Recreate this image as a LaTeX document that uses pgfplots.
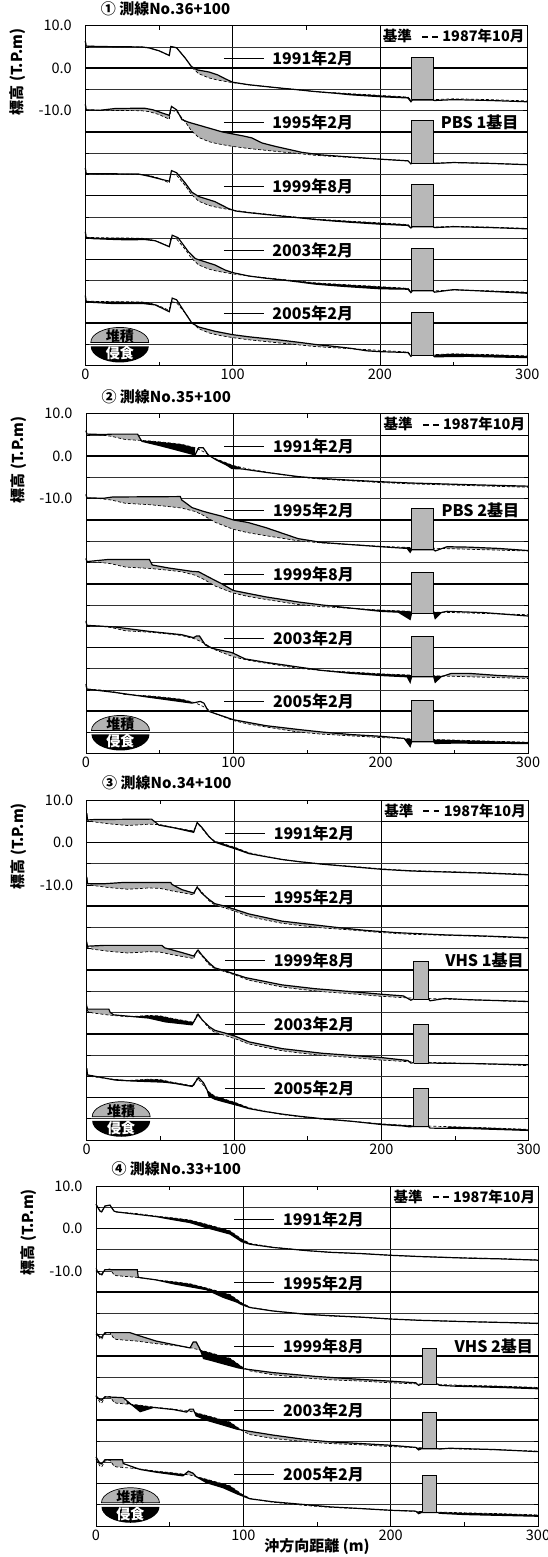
\documentclass[border=0pt]{standalone}
\usepackage{fontspec}
\setmainfont{Noto Sans CJK JP}
\usepackage{pgfplots}
\pgfplotsset{compat=1.18}
\usepgfplotslibrary{fillbetween}
\usepackage{pgfplotstable}

\newcommand{\lab}{\fontsize{16}{18}\selectfont\bfseries}
\newcommand{\tik}{\fontsize{14.5}{16}\selectfont}

% 1987 baselines (relative elevation, m)
\pgfplotstableread{
x y
0 6.4
0.6 5.2
10 5.1
38 5.0
43 4.8
50 4.1
57 3.0
58 5.1
62 4.8
68 2.3
72 0.3
77 -1.3
84 -2.3
90 -2.8
100 -3.4
111 -3.9
122 -4.3
133 -4.7
145 -5.1
156 -5.5
170 -5.8
180 -6.0
200 -6.4
219 -6.8
221 -7.5
222 -7.2
236 -7.2
237 -7.4
250 -7.2
275 -7.4
300 -7.7
}\BaseA
\pgfplotstableread{
x y
0 6.0
0.6 5.2
10 5.0
17 4.7
27 3.9
35 3.75
43 3.6
55 3.2
65 2.8
74 2.0
79 1.2
88 -0.6
100 -2.2
110 -3.0
122 -3.7
133 -4.3
144 -4.9
160 -5.4
180 -5.8
200 -6.2
220 -6.5
240 -6.7
260 -6.9
300 -7.3
}\BaseB
\pgfplotstableread{
x y
0 6.9
0.6 5.3
4 4.9
15 4.4
28 4.0
42 4.3
50 4.2
58 3.6
72.6 2.7
75 4.6
78 3.4
83 1.3
87 0.3
92 -0.2
101 -1.2
110 -2.4
121 -3.2
132.6 -4.0
144 -4.5
160 -5.1
180 -5.6
200 -6.2
220 -6.6
240 -6.8
270 -7.1
300 -7.5
}\BaseC
\pgfplotstableread{
x y
0 5.7
2.7 4.1
3.8 3.9
6.1 5.3
9.5 5.5
12.2 4.1
14 3.9
28 3.5
41 2.9
52.5 2.5
63.8 2.0
75 1.0
91 -0.55
98.9 -2.5
104.5 -3.5
120 -4.4
143 -5.2
159 -5.6
180 -5.9
200 -6.3
220 -6.6
250 -6.9
275 -7.1
300 -7.4
}\BaseD

\pgfplotsset{
 r/.style={y filter/.expression={y-#1}},
 surv/.style={black, line width=1.2pt, mark=none},
 base/.style={black, line width=0.7pt, dash pattern=on 3pt off 2pt, mark=none},
 acc/.style={fill=black!30, draw=none},
 ero/.style={fill=black, draw=none},
 struct/.style={fill=black!28, draw=black, line width=0.9pt, mark=none},
 panel/.style={
  scale only axis, width=442pt, height=340pt,
  xmin=0, xmax=300, ymin=-70, ymax=10,
  clip=false, set layers,
  axis line style={line width=0.8pt},
  xtick={0,100,200,300}, minor xtick={50,150,250},
  xmajorgrids, major x grid style={black, line width=0.7pt},
  ytick={10,0,-10}, yticklabels={10.0,0.0,-10.0},
  minor ytick={5,-5,-10,-20,-25,-35,-40,-50,-55,-65},
  yminorgrids, minor y grid style={black!80, line width=0.55pt},
  extra y ticks={0,-15,-30,-45,-60}, extra y tick labels={},
  extra y tick style={grid=major, major grid style={black, line width=1.6pt}},
  tick align=inside, major tick length=0pt, minor tick length=4pt,
  tick style={black, line width=0.6pt},
  ticklabel style={font=\tik},
  yticklabel style={xshift=-10pt},
  /pgf/number format/assume math mode=true,
  ylabel={標高 (T.P.m)},
  ylabel style={at={(axis description cs:-0.153,0.864)}, anchor=center, font=\fontsize{15}{17}\selectfont\bfseries},
  title style={at={(axis description cs:0,1)}, anchor=west, xshift=12pt, yshift=11pt, font=\fontsize{15}{17}\selectfont\bfseries},
 },
}

\newcommand{\refbox}{%
 \draw[fill=white, line width=0.8pt] (axis cs:200,5) rectangle (axis cs:300,10);
 \node[font=\fontsize{14.5}{16}\selectfont\bfseries] at (axis cs:250,7.5) {基準\hspace{0.7em}\rule[0.3em]{0.4em}{1.6pt}\hspace{0.3em}\rule[0.3em]{0.4em}{1.6pt}\hspace{0.3em}1987年10月};}
\newcommand{\yearlab}[2]{%
 \draw[line width=0.9pt] (axis cs:94,#1) -- (axis cs:121,#1) node[right=5pt, font=\lab] {#2};}
\newcommand{\sedlegend}{%
 \coordinate (L) at (axis cs:23.4,-65);
 \draw[fill=black!30, line width=0.7pt] ([xshift=-29pt,yshift=2pt]L) arc[start angle=180,end angle=0,x radius=29pt,y radius=15pt] -- cycle;
 \fill[black] ([xshift=-29pt,yshift=-2pt]L) arc[start angle=180,end angle=360,x radius=29pt,y radius=16pt] -- cycle;
 \node[font=\fontsize{14}{16}\selectfont\bfseries] at ([yshift=8pt]L) {堆積};
 \node[font=\fontsize{14}{16}\selectfont\bfseries, white] at ([yshift=-9pt]L) {侵食};}

\begin{document}
\begin{tikzpicture}

%================ Panel 1
\begin{axis}[panel, at={(85.3pt,-25.7pt)}, anchor=north west, title={① 測線No.36+100}]
\addplot[base, name path=b1] table {\BaseA};
\addplot[surv, name path=s1] coordinates {(0,6.4) (0.6,5.2) (10,5.1) (38,5.0) (43,4.8) (50,4.1) (57,3.0) (58,5.1) (62,4.8) (68,2.3) (72,0.4) (76,-0.4) (84,-0.9) (90,-1.6) (95,-2.5) (100,-3.3) (111,-3.9) (122,-4.3) (133,-4.7) (145,-5.1) (156,-5.5) (170,-5.9) (180,-6.25) (200,-6.7) (219,-7.0) (221,-7.9) (222,-7.5) (236,-7.5) (237,-7.6) (250,-7.4) (275,-7.6) (300,-7.9)};
\addplot[acc] fill between[of=s1 and b1, soft clip={domain=72:100}];
\addplot[ero] fill between[of=s1 and b1, soft clip={domain=165:221}];
\addplot[base, r=15, name path=b2] table {\BaseA};
\addplot[surv, r=15, name path=s2] coordinates {(0,6.5) (0.6,5.2) (10,5.1) (20,5.5) (40,5.6) (46,5.2) (57,3.9) (58.5,6.0) (62,5.2) (65.6,2.9) (70,2.3) (76,1.7) (84,0.9) (93,0) (102,-0.6) (108,-1.0) (113,-1.4) (120,-2.6) (129,-3.4) (138,-4.1) (147,-4.8) (160,-5.4) (180,-5.9) (200,-6.4) (219,-6.8) (221,-7.5) (222,-7.2) (236,-7.2) (237,-7.4) (250,-7.2) (275,-7.4) (300,-7.7)};
\addplot[acc] fill between[of=s2 and b2, soft clip={domain=12:58}];
\addplot[acc] fill between[of=s2 and b2, soft clip={domain=64:165}];
\addplot[base, r=30, name path=b3] table {\BaseA};
\addplot[surv, r=30, name path=s3] coordinates {(0,6.5) (0.6,5.2) (36,5.1) (43,4.6) (50,4.0) (57,3.4) (58.5,5.9) (62,5.4) (68,2.9) (72.4,0.8) (77,-0.2) (88,-1.4) (97,-3.0) (102,-3.6) (111,-4.0) (122,-4.4) (133,-4.8) (145,-5.2) (156,-5.6) (170,-6.0) (180,-6.25) (200,-6.7) (219,-7.0) (221,-7.6) (222,-7.3) (236,-7.3) (237,-7.5) (250,-7.3) (275,-7.5) (300,-7.8)};
\addplot[acc] fill between[of=s3 and b3, soft clip={domain=66:101}];
\addplot[ero] fill between[of=s3 and b3, soft clip={domain=38:52}];
\addplot[ero] fill between[of=s3 and b3, soft clip={domain=150:221}];
\addplot[base, r=45, name path=b4] table {\BaseA};
\addplot[surv, r=45, name path=s4] coordinates {(0,6.5) (0.6,5.2) (5,4.9) (20,4.7) (30,4.6) (40,4.7) (47.5,4.4) (57,3.0) (59,5.7) (63,5.1) (70,1.8) (74.7,0.2) (79,-0.3) (88,-1.3) (95,-2.5) (100,-3.1) (111,-3.9) (122,-4.4) (133,-4.8) (145,-5.3) (156,-5.8) (170,-6.2) (180,-6.45) (200,-6.9) (219,-7.0) (221,-7.8) (222,-7.4) (236,-7.4) (237,-7.7) (250,-7.1) (262,-7.3) (300,-7.95)};
\addplot[ero] fill between[of=s4 and b4, soft clip={domain=2:48}];
\addplot[acc] fill between[of=s4 and b4, soft clip={domain=72:100}];
\addplot[ero] fill between[of=s4 and b4, soft clip={domain=125:221}];
\addplot[ero] fill between[of=s4 and b4, soft clip={domain=262:300}];
\addplot[base, r=60, name path=b5] table {\BaseA};
\addplot[surv, r=60, name path=s5] coordinates {(0,6.5) (0.6,5.1) (5,4.9) (20,4.6) (30,4.6) (40,4.6) (47.5,4.3) (57,2.7) (59,5.9) (62,5.5) (68,2.3) (72.4,0) (77,-0.9) (88,-1.9) (100,-2.7) (111,-3.2) (122,-3.6) (133,-4.0) (145,-4.5) (156,-5.0) (170,-5.5) (180,-5.9) (191,-6.5) (200,-6.7) (219,-6.9) (221,-7.8) (222,-7.5) (236,-7.5) (237,-7.9) (260,-7.8) (300,-8.1)};
\addplot[ero] fill between[of=s5 and b5, soft clip={domain=2:48}];
\addplot[acc] fill between[of=s5 and b5, soft clip={domain=74:195}];
\addplot[ero] fill between[of=s5 and b5, soft clip={domain=237:300}];
\addplot[struct] coordinates {(221.5,-7.3) (221.5,2.6) (236.5,2.6) (236.5,-7.3) (221.5,-7.3)};
\addplot[struct, r=15] coordinates {(221.5,-7.3) (221.5,2.6) (236.5,2.6) (236.5,-7.3) (221.5,-7.3)};
\addplot[struct, r=30] coordinates {(221.5,-7.3) (221.5,2.6) (236.5,2.6) (236.5,-7.3) (221.5,-7.3)};
\addplot[struct, r=45] coordinates {(221.5,-7.4) (221.5,2.6) (236.5,2.6) (236.5,-7.4) (221.5,-7.4)};
\addplot[struct, r=60] coordinates {(221.5,-7.5) (221.5,2.6) (236.5,2.6) (236.5,-7.5) (221.5,-7.5)};
\refbox
\yearlab{2.2}{1991年2月}
\yearlab{-12.8}{1995年2月}
\yearlab{-27.8}{1999年8月}
\yearlab{-42.8}{2003年2月}
\yearlab{-57.8}{2005年2月}
\node[anchor=west, font=\lab] at (axis cs:239,-12.8) {PBS 1基目};
\sedlegend
\end{axis}

%================ Panel 2
\begin{axis}[panel, at={(86pt,-413.7pt)}, anchor=north west, title={② 測線No.35+100}]
\addplot[base, name path=b1] table {\BaseB};
\addplot[surv, name path=s1] coordinates {(0,6.0) (0.6,5.2) (12,5.1) (18,5.2) (35,5.2) (37,4.0) (38,3.5) (50,2.5) (60,1.6) (74,0.3) (76.5,2.0) (79.5,2.0) (83,0.3) (88,-0.8) (95,-2.0) (99,-2.9) (106,-3.0) (122,-3.8) (144,-4.8) (160,-5.25) (180,-5.65) (200,-6.0) (220,-6.3) (240,-6.5) (260,-6.7) (300,-7.05)};
\addplot[acc] fill between[of=s1 and b1, soft clip={domain=12:37}];
\addplot[ero] fill between[of=s1 and b1, soft clip={domain=37:74}];
\addplot[ero] fill between[of=s1 and b1, soft clip={domain=88:105}];
\addplot[acc] fill between[of=s1 and b1, soft clip={domain=150:300}];
\addplot[base, r=15, name path=b2] table {\BaseB};
\addplot[surv, r=15, name path=s2] coordinates {(0,6.0) (0.6,5.2) (12,5.1) (18,5.4) (64,5.5) (65,4.7) (72,2.9) (79,2.1) (83,1.7) (92,0.9) (100,0) (110,-0.6) (122,-1.8) (133,-3.1) (144,-4.4) (153,-4.9) (160,-5.3) (180,-5.8) (200,-6.3) (218,-6.7) (220,-7.6) (221,-7.0) (236,-7.0) (237,-7.3) (245,-6.3) (260,-6.4) (280,-6.7) (300,-7.2)};
\addplot[acc] fill between[of=s2 and b2, soft clip={domain=12:165}];
\addplot[ero] fill between[of=s2 and b2, soft clip={domain=214:221}];
\addplot[acc] fill between[of=s2 and b2, soft clip={domain=240:300}];
\addplot[base, r=30, name path=b3] table {\BaseB};
\addplot[surv, r=30, name path=s3] coordinates {(0,5.9) (0.6,5.2) (15,5.7) (43,5.7) (45,4.4) (56,3.7) (72,2.9) (76.5,2.8) (83,1.6) (92,0) (100,-1.6) (122,-3.1) (144,-4.3) (160,-5.0) (180,-5.75) (200,-6.5) (212,-6.7) (220,-8.4) (221,-6.9) (236,-6.9) (237,-8.2) (241,-6.8) (245,-6.5) (270,-6.8) (300,-7.6)};
\addplot[acc] fill between[of=s3 and b3, soft clip={domain=8:165}];
\addplot[ero] fill between[of=s3 and b3, soft clip={domain=172:221}];
\addplot[ero] fill between[of=s3 and b3, soft clip={domain=236:242}];
\addplot[base, r=45, name path=b4] table {\BaseB};
\addplot[surv, r=45, name path=s4] coordinates {(0,6.25) (0.6,5.2) (20,4.8) (42.5,3.8) (65,3.0) (73,2.3) (75,2.7) (77,2.7) (81,0.6) (85.5,-0.2) (99,-1.2) (108,-2.7) (122,-3.5) (144,-4.6) (160,-5.4) (180,-6.1) (200,-6.6) (218,-6.9) (220,-8.2) (221,-6.9) (236,-6.9) (237,-8.2) (241,-6.9) (248,-6.1) (260,-6.1) (280,-6.6) (300,-6.9)};
\addplot[acc] fill between[of=s4 and b4, soft clip={domain=2:140}];
\addplot[ero] fill between[of=s4 and b4, soft clip={domain=150:221}];
\addplot[ero] fill between[of=s4 and b4, soft clip={domain=236:242}];
\addplot[acc] fill between[of=s4 and b4, soft clip={domain=243:300}];
\addplot[base, r=60, name path=b5] table {\BaseB};
\addplot[surv, r=60, name path=s5] coordinates {(0,6.4) (0.6,5.2) (20,4.4) (42.5,3.3) (72,1.9) (77.6,2.3) (80,1.9) (83,0) (100,-2.0) (122,-3.4) (144,-4.3) (160,-4.9) (180,-5.5) (200,-5.9) (216,-6.4) (220,-8.3) (221,-7.2) (236,-7.2) (237,-7.6) (250,-7.5) (300,-7.6)};
\addplot[ero] fill between[of=s5 and b5, soft clip={domain=25:72}];
\addplot[acc] fill between[of=s5 and b5, soft clip={domain=83:205}];
\addplot[ero] fill between[of=s5 and b5, soft clip={domain=213:221}];
\addplot[ero] fill between[of=s5 and b5, soft clip={domain=236:300}];
\addplot[struct, r=15] coordinates {(220.6,-7.0) (220.6,2.6) (235.6,2.6) (235.6,-7.0) (220.6,-7.0)};
\addplot[struct, r=30] coordinates {(220.6,-6.9) (220.6,2.6) (235.6,2.6) (235.6,-6.9) (220.6,-6.9)};
\addplot[struct, r=45] coordinates {(220.6,-6.9) (220.6,2.5) (235.6,2.5) (235.6,-6.9) (220.6,-6.9)};
\addplot[struct, r=60] coordinates {(220.6,-7.2) (220.6,2.6) (235.6,2.6) (235.6,-7.2) (220.6,-7.2)};
\refbox
\yearlab{2.2}{1991年2月}
\yearlab{-12.8}{1995年2月}
\yearlab{-27.8}{1999年8月}
\yearlab{-42.8}{2003年2月}
\yearlab{-57.8}{2005年2月}
\node[anchor=west, font=\lab] at (axis cs:239,-12.8) {PBS 2基目};
\sedlegend
\end{axis}

%================ Panel 3
\begin{axis}[panel, at={(86.7pt,-800pt)}, anchor=north west, title={③ 測線No.34+100}]
\addplot[base, name path=b1] table {\BaseC};
\addplot[surv, name path=s1] coordinates {(0,6.9) (0.6,5.3) (5,5.4) (44,5.5) (49,4.1) (60,3.4) (72.6,2.4) (75,4.7) (78.3,3.5) (83,1.4) (87,0.1) (92,-0.5) (101,-1.5) (110,-2.6) (121,-3.3) (132.6,-4.0) (144,-4.5) (160,-5.1) (180,-5.7) (200,-6.3) (220,-6.7) (240,-6.9) (270,-7.2) (300,-7.6)};
\addplot[acc] fill between[of=s1 and b1, soft clip={domain=3:46}];
\addplot[ero] fill between[of=s1 and b1, soft clip={domain=52:73}];
\addplot[ero] fill between[of=s1 and b1, soft clip={domain=85:112}];
\addplot[base, r=15, name path=b2] table {\BaseC};
\addplot[surv, r=15, name path=s2] coordinates {(0,6.9) (0.6,5.3) (12,5.3) (25,5.6) (57,5.6) (58,5.1) (64.7,3.9) (72.6,3.1) (75,4.5) (78,3.1) (83,1.6) (87,0.6) (94,0) (110,-1.8) (132.6,-3.5) (155,-4.4) (170,-5.0) (190,-5.7) (210,-6.2) (240,-6.7) (270,-7.0) (300,-7.4)};
\addplot[acc] fill between[of=s2 and b2, soft clip={domain=3:73}];
\addplot[acc] fill between[of=s2 and b2, soft clip={domain=80:200}];
\addplot[base, r=30, name path=b3] table {\BaseC};
\addplot[surv, r=30, name path=s3] coordinates {(0,6.4) (0.6,5.6) (12,5.8) (51,5.8) (53,5.2) (64.7,4.1) (72.6,3.3) (75.6,4.7) (78,3.6) (83,1.7) (87,0.5) (92,0.0) (108,-1.8) (132.6,-3.5) (155,-4.4) (180,-5.1) (200,-5.7) (215,-6.1) (220,-7.1) (222,-6.8) (232,-6.8) (233,-7.25) (243,-6.7) (260,-7.0) (300,-7.4)};
\addplot[acc] fill between[of=s3 and b3, soft clip={domain=3:73}];
\addplot[acc] fill between[of=s3 and b3, soft clip={domain=80:219}];
\addplot[base, r=45, name path=b4] table {\BaseC};
\addplot[surv, r=45, name path=s4] coordinates {(0,6.4) (0.6,5.8) (15,5.8) (16,5.0) (18.3,4.45) (42,3.7) (53.4,2.8) (71.5,2.1) (75.6,4.6) (78.3,3.3) (83,1.7) (87,0.8) (94,0.15) (101,-0.6) (110,-1.9) (132.6,-3.5) (160,-4.6) (180,-5.1) (200,-5.6) (218,-6.3) (220,-6.9) (222,-6.8) (232,-6.8) (233,-6.9) (260,-7.0) (300,-7.3)};
\addplot[acc] fill between[of=s4 and b4, soft clip={domain=0.6:17}];
\addplot[ero] fill between[of=s4 and b4, soft clip={domain=32:74}];
\addplot[acc] fill between[of=s4 and b4, soft clip={domain=83:219}];
\addplot[base, r=60, name path=b5] table {\BaseC};
\addplot[surv, r=60, name path=s5] coordinates {(0,6.9) (0.6,5.3) (4,5.1) (19.5,4.1) (30,3.9) (42,3.75) (53,3.6) (60,3.3) (71.5,2.6) (76,4.7) (79.4,3.4) (81.7,1.8) (83,0.3) (87,-0.4) (92,-0.9) (103,-1.9) (110,-2.6) (121,-3.3) (132.6,-3.9) (144,-4.4) (160,-5.0) (180,-5.6) (200,-6.35) (215,-6.7) (219,-6.9) (222,-6.8) (232,-6.8) (233,-7.2) (260,-7.3) (300,-7.75)};
\addplot[ero] fill between[of=s5 and b5, soft clip={domain=18:74}];
\addplot[ero] fill between[of=s5 and b5, soft clip={domain=80:112}];
\addplot[ero] fill between[of=s5 and b5, soft clip={domain=190:222}];
\addplot[ero] fill between[of=s5 and b5, soft clip={domain=245:300}];
\addplot[struct, r=30] coordinates {(222,-6.9) (222,2.05) (232,2.05) (232,-6.9) (222,-6.9)};
\addplot[struct, r=45] coordinates {(222,-6.9) (222,2.2) (232,2.2) (232,-6.9) (222,-6.9)};
\addplot[struct, r=60] coordinates {(222,-6.9) (222,2.05) (232,2.05) (232,-6.9) (222,-6.9)};
\refbox
\yearlab{2.2}{1991年2月}
\yearlab{-12.8}{1995年2月}
\yearlab{-27.8}{1999年8月}
\yearlab{-42.8}{2003年2月}
\yearlab{-57.8}{2005年2月}
\node[anchor=west, font=\lab] at (axis cs:241,-27.8) {VHS 1基目};
\sedlegend
\end{axis}

%================ Panel 4
\begin{axis}[panel, at={(96pt,-1186pt)}, anchor=north west, title={④ 測線No.33+100},
  xlabel={沖方向距離 (m)}, xlabel style={font=\fontsize{15}{17}\selectfont\bfseries, at={(axis description cs:0.5,0)}, anchor=center, yshift=-21pt}]
\addplot[base, name path=b1] table {\BaseD};
\addplot[surv, name path=s1] coordinates {(0,5.7) (2.7,4.1) (3.8,3.9) (6.1,5.3) (9.5,5.5) (12.2,4.1) (14,3.9) (41,2.8) (52,2.1) (63.8,1.4) (75,0.2) (91,-1.3) (98.9,-3.1) (104.5,-3.7) (120,-4.45) (143,-5.2) (159,-5.6) (180,-5.9) (200,-6.3) (220,-6.6) (250,-6.95) (275,-7.15) (300,-7.45)};
\addplot[ero] fill between[of=s1 and b1, soft clip={domain=40:105}];
\addplot[base, r=15, name path=b2] table {\BaseD};
\addplot[surv, r=15, name path=s2] coordinates {(0,5.1) (2.7,4.3) (3.8,4.2) (6.1,5.3) (28,5.3) (28.7,3.5) (41,2.9) (52.5,2.0) (63.8,1.3) (75,0.6) (86.4,-1.2) (95.5,-2.3) (98.9,-2.9) (104.5,-3.6) (120,-4.4) (143,-5.2) (159,-5.5) (180,-5.85) (200,-6.3) (220,-6.6) (250,-6.9) (275,-7.1) (300,-7.3)};
\addplot[acc] fill between[of=s2 and b2, soft clip={domain=6:28.7}];
\addplot[ero] fill between[of=s2 and b2, soft clip={domain=45:104}];
\addplot[base, r=30, name path=b3] table {\BaseD};
\addplot[surv, r=30, name path=s3] coordinates {(0,5.2) (2.7,4.5) (3.8,4.4) (6.1,5.5) (23,5.5) (30,4.7) (41,3.5) (52.5,2.7) (63.8,1.9) (66,3.3) (68,3.3) (70.6,1.6) (73,-0.6) (77.7,-1.0) (86,-1.8) (96.7,-2.8) (100,-3.0) (120,-3.9) (149,-4.8) (175,-5.4) (199,-5.9) (217,-6.3) (219,-6.9) (221,-6.6) (232,-6.6) (233,-6.9) (244,-7.1) (275,-7.4) (300,-7.7)};
\addplot[acc] fill between[of=s3 and b3, soft clip={domain=6:55}];
\addplot[acc] fill between[of=s3 and b3, soft clip={domain=63:70}];
\addplot[ero] fill between[of=s3 and b3, soft clip={domain=70:100}];
\addplot[acc] fill between[of=s3 and b3, soft clip={domain=103:217}];
\addplot[ero] fill between[of=s3 and b3, soft clip={domain=244:300}];
\addplot[base, r=45, name path=b4] table {\BaseD};
\addplot[surv, r=45, name path=s4] coordinates {(0,5.6) (2.7,4.7) (3.8,4.6) (6.1,5.4) (18.5,5.2) (20.8,4.5) (30,1.9) (39,2.9) (52.5,2.4) (61.5,1.8) (63.8,2.5) (66,2.5) (68,0.9) (75,-0.1) (86.4,-1.25) (95.5,-2.2) (102,-2.6) (120,-3.6) (143,-4.7) (159,-5.2) (180,-5.6) (200,-6.0) (217,-6.5) (219,-7.1) (221,-6.8) (232,-6.8) (233,-6.9) (240,-6.7) (270,-7.0) (300,-7.5)};
\addplot[acc] fill between[of=s4 and b4, soft clip={domain=6:20}];
\addplot[ero] fill between[of=s4 and b4, soft clip={domain=20.8:39}];
\addplot[acc] fill between[of=s4 and b4, soft clip={domain=61:68}];
\addplot[ero] fill between[of=s4 and b4, soft clip={domain=67:100}];
\addplot[acc] fill between[of=s4 and b4, soft clip={domain=102:217}];
\addplot[ero] fill between[of=s4 and b4, soft clip={domain=216:221}];
\addplot[base, r=60, name path=b5] table {\BaseD};
\addplot[surv, r=60, name path=s5] coordinates {(0,6.25) (2.7,4.7) (3.8,4.6) (6.1,5.6) (18,5.6) (18.5,4.7) (30,3.3) (41,2.65) (59,1.8) (62.7,2.9) (66,2.4) (68,1.6) (75,0.2) (86.4,-1.0) (95.5,-2.4) (100,-3.0) (104.5,-3.6) (120,-4.3) (143,-5.0) (159,-5.5) (180,-5.9) (200,-6.3) (217,-6.5) (219,-7.1) (221,-6.8) (232,-6.8) (233,-7.0) (250,-7.3) (275,-7.5) (300,-7.7)};
\addplot[acc] fill between[of=s5 and b5, soft clip={domain=6:18.5}];
\addplot[ero] fill between[of=s5 and b5, soft clip={domain=25:60}];
\addplot[acc] fill between[of=s5 and b5, soft clip={domain=60:67}];
\addplot[ero] fill between[of=s5 and b5, soft clip={domain=67:104}];
\addplot[ero] fill between[of=s5 and b5, soft clip={domain=216:221}];
\addplot[ero] fill between[of=s5 and b5, soft clip={domain=233:300}];
\addplot[struct, r=30] coordinates {(221.7,-6.7) (221.7,1.7) (231.2,1.7) (231.2,-6.7) (221.7,-6.7)};
\addplot[struct, r=45] coordinates {(221.7,-6.8) (221.7,1.7) (231.2,1.7) (231.2,-6.8) (221.7,-6.8)};
\addplot[struct, r=60] coordinates {(221.7,-6.8) (221.7,1.8) (231.2,1.8) (231.2,-6.8) (221.7,-6.8)};
\refbox
\yearlab{2.2}{1991年2月}
\yearlab{-12.8}{1995年2月}
\yearlab{-27.8}{1999年8月}
\yearlab{-42.8}{2003年2月}
\yearlab{-57.8}{2005年2月}
\node[anchor=west, font=\lab] at (axis cs:241,-27.8) {VHS 2基目};
\sedlegend
\end{axis}
\pgfresetboundingbox
\path[use as bounding box] (0,0) rectangle (548pt,-1557pt);
\end{tikzpicture}
\end{document}
